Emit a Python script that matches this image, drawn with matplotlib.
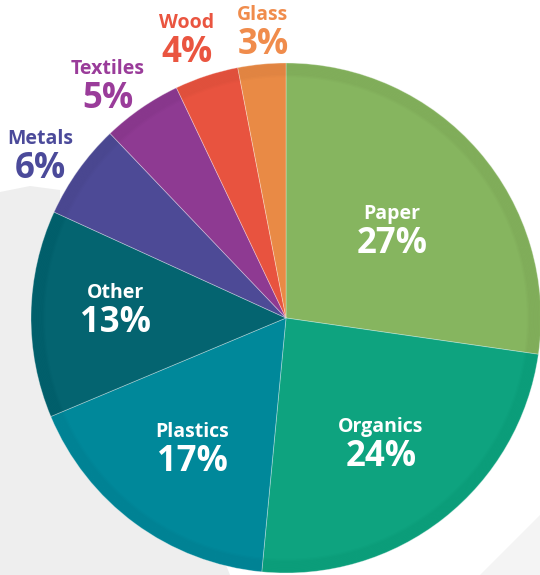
import matplotlib
matplotlib.use("Agg")
import matplotlib.pyplot as plt
from matplotlib.patches import Polygon, Circle
import numpy as np

categories = ["Paper", "Organics", "Plastics", "Other", "Metals", "Textiles", "Wood", "Glass"]
values = [27, 24, 17, 13, 6, 5, 4, 3]
colors = ["#86b55f", "#0ea37f", "#00889a", "#046470", "#4d4a96", "#8e3a92", "#e8533f", "#e98a45"]
label_colors = ["white", "white", "white", "white", "#4b4a9a", "#9a3c9a", "#ea5540", "#f08c4c"]

# label positions in pixel coords (x, y from top)
label_pos = [(392, 214), (381, 427), (192, 432), (115, 293), (40, 139), (108, 69), (187, 23), (263, 15)]

W, H = 540, 575
fig = plt.figure(figsize=(W / 100, H / 100), dpi=100)
ax = fig.add_axes([0, 0, 1, 1])

# faint grey background shapes
bg1 = Polygon([(0, H - 192), (30, H - 186), (60, H - 190), (60, 0), (0, 0)],
              closed=True, facecolor="#eeeeee", edgecolor="none", zorder=0)
ax.add_patch(bg1)
bg2 = Polygon([(0, H - 300), (120, H - 300), (230, 0), (0, 0)],
              closed=True, facecolor="#eeeeee", edgecolor="none", zorder=0)
ax.add_patch(bg2)
bg3 = Polygon([(480, 0), (540, 60), (540, 0)], closed=True,
              facecolor="#f4f4f4", edgecolor="none", zorder=0)
ax.add_patch(bg3)

cx, cy, R = 286, H - 318, 255
wedges, _ = ax.pie(values, colors=colors, startangle=90, counterclock=False,
                   radius=R, center=(cx, cy), frame=True,
                   wedgeprops=dict(edgecolor=(1, 1, 1, 0.35), linewidth=0.6))
ax.set_xlim(0, W)
ax.set_ylim(0, H)
ax.axis("off")
ax.set_aspect("equal")

# subtle soft edge shading
for i in range(10):
    r = R * (1 - 0.005 * i) - 1
    ring = Circle((cx, cy), r, facecolor="none", edgecolor=(0, 0, 0, 0.012),
                  linewidth=2.5, zorder=3)
    ax.add_patch(ring)

for i, (cat, v) in enumerate(zip(categories, values)):
    x, y = label_pos[i]
    col = label_colors[i]
    ax.text(x, H - y, cat, ha="center", va="center", fontsize=14, fontweight="bold",
            color=col, family="Open Sans", zorder=5)
    ax.text(x, H - y - 30, f"{v}%", ha="center", va="center", fontsize=25, fontweight="bold",
            color=col, family="Open Sans", zorder=5)

fig.savefig("out.png", dpi=100)
